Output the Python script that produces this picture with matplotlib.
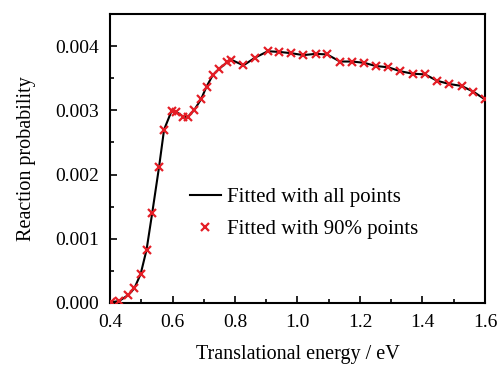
import matplotlib
matplotlib.use("Agg")
import matplotlib.pyplot as plt
from matplotlib.ticker import MultipleLocator

plt.rcParams['font.family'] = ['Liberation Serif', 'DejaVu Serif']

energy = [0.403, 0.429, 0.459, 0.478, 0.498, 0.517, 0.535, 0.557, 0.573, 0.597,
          0.610, 0.635, 0.649, 0.669, 0.691, 0.709, 0.729, 0.750, 0.775, 0.787,
          0.827, 0.864, 0.905, 0.942, 0.979, 1.019, 1.059, 1.095, 1.136, 1.175,
          1.213, 1.251, 1.291, 1.328, 1.369, 1.408, 1.447, 1.486, 1.525, 1.563, 1.600]
prob = [0.00001, 0.00003, 0.000125, 0.00023, 0.00045, 0.00083, 0.00140, 0.00212, 0.00270, 0.00299,
        0.00298, 0.00290, 0.00290, 0.00300, 0.00317, 0.00337, 0.00355, 0.00365, 0.00375, 0.00379,
        0.00370, 0.00382, 0.00392, 0.00391, 0.00389, 0.00386, 0.00388, 0.00387, 0.00376, 0.00376,
        0.00374, 0.00369, 0.00367, 0.00361, 0.00357, 0.00356, 0.00346, 0.00341, 0.00338, 0.00329, 0.00317]

fig = plt.figure(figsize=(5.01, 3.65), dpi=100)
ax = fig.add_axes([0.2196, 0.170, 0.968 - 0.2196, 0.9616 - 0.170])

ax.plot(energy, prob, color='black', lw=1.5, label='Fitted with all points', zorder=2)
ax.plot(energy, prob, ls='none', marker='x', color='#e41e26', ms=5.5, mew=1.6,
        label='Fitted with 90% points', zorder=3)

ax.set_xlim(0.4, 1.6)
ax.set_ylim(0, 0.0045)
ax.xaxis.set_major_locator(MultipleLocator(0.2))
ax.xaxis.set_minor_locator(MultipleLocator(0.1))
ax.yaxis.set_major_locator(MultipleLocator(0.001))
ax.yaxis.set_minor_locator(MultipleLocator(0.0005))
ax.xaxis.set_major_formatter(plt.FuncFormatter(lambda v, p: f"{v:.1f}"))
ax.yaxis.set_major_formatter(plt.FuncFormatter(lambda v, p: f"{v:.3f}"))
ax.tick_params(which='both', direction='in', top=False, right=False, labelsize=14, width=1.2)
ax.tick_params(axis='x', which='major', length=5, pad=8)
ax.tick_params(axis='y', which='major', length=5, pad=8)
ax.tick_params(which='minor', length=3)
for s in ax.spines.values():
    s.set_linewidth(1.5)

ax.set_xlabel('Translational energy / eV', fontsize=14.5, labelpad=10)
ax.set_ylabel('Reaction probability', fontsize=14.5, labelpad=14)

ax.legend(loc='center left', bbox_to_anchor=(0.162, 0.31), frameon=False, fontsize=15,
          handlelength=1.5, handletextpad=0.3, labelspacing=0.6)

fig.savefig('out.png', dpi=100)
